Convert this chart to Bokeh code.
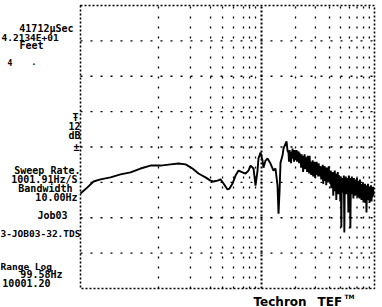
from bokeh.plotting import figure
from bokeh.models import Label
from bokeh.embed import file_html
from bokeh.resources import INLINE
import numpy as np
import math

# ---- data (frequency in Hz, level in dB) ----
smooth_hz = [25.0, 28.8, 32.6, 37.6, 46.1, 56.5, 69.3, 84.9, 104, 128, 157, 184, 213, 245,
             277, 319, 354, 376, 408, 434, 461, 500, 521, 554, 589, 626, 679, 722, 767,
             800, 850, 885, 922, 940, 980, 1021, 1041, 1085, 1130, 1201, 1277, 1330, 1386,
             1414, 1443, 1473, 1534, 1566, 1665, 1699]
smooth_db = [-63.8, -61.7, -59.7, -59.0, -58.3, -57.3, -56.6, -55.3, -54.3, -54.3, -53.9,
             -53.6, -53.9, -55.3, -57.0, -58.3, -59.4, -59.7, -59.4, -59.0, -60.4, -62.4,
             -62.1, -60.4, -57.7, -56.0, -56.6, -57.0, -56.0, -54.3, -55.3, -61.1, -56.0,
             -51.9, -49.9, -52.6, -55.0, -52.6, -51.9, -53.6, -56.0, -55.3, -61.1,
             -70.6, -63.4, -53.3, -50.9, -48.5, -46.1, -49.2]
dense_db = [-50, -53, -49, -52, -50.5, -53.5, -49.5, -52, -48.5, -51.5, -50, -53,
            -49, -52.5, -50, -51.5, -49, -53, -50.5, -52, -49.5, -53.5, -50, -52.5,
            -51, -55, -50.5, -54, -52, -56.5, -51, -54.5, -50.5, -55.5,
            -52, -54, -51.5, -56.5, -51, -55, -52.5, -57, -51, -55.5,
            -53, -57.5, -53.5, -56, -52.5, -58, -54, -57, -53, -58.5,
            -54.5, -56.5, -53, -57.5, -54, -58, -53.5, -56.5, -54.5, -58,
            -54.5, -59, -55, -58, -54, -60.5, -55.5, -58.5, -54.5, -59.5,
            -56, -61, -55, -58.5, -55.5, -60, -54.5, -59, -56, -60.5,
            -56, -62, -57, -61, -56.5, -64.5, -57.5, -61.5, -56, -63,
            -57, -66, -58, -62, -56.5, -64, -57.5, -61, -58, -66.5,
            -58, -75.3, -59, -62, -58.5, -63.5, -57.7, -77, -59, -62.5,
            -58, -64, -59.5, -63, -58.5, -70.2, -57.7, -62.5, -58.5, -75.6,
            -59, -64, -58, -63, -59.5, -65.5, -58.5, -63.5, -59, -64.5,
            -60, -63, -58.5, -65, -59.5, -64, -60, -65.5, -59, -63.5,
            -60.5, -66, -61, -65, -60, -66.8, -61.5, -65.5, -60.5, -67, -61, -70.2, -62,
            -66, -60.5, -65.5, -61.5, -67, -62, -65.5, -61, -66.5, -62.5, -65, -61.5, -64.5]
dense_hz = list(np.geomspace(1734, 9800, len(dense_db)))

freq_hz = smooth_hz + dense_hz
level_db = smooth_db + dense_db

grid_minor_hz = [122.5, 235, 354, 452, 565, 693, 783, 885,
                 2000, 3000, 4000, 5000, 6000, 7000, 8000, 9000]
grid_major_hz = [1000]
grid_db = [-12, -24, -36, -48, -60, -72, -84]
box_hz = (25.0, 10000.0)
box_db = (-96.0, 0.0)

# ---- canvas geometry: the frame covers the whole canvas, the plot box sits inside ----
W, H = 382, 307
ML, MR, MT, MB = 80, 8, 5, 19
dec_px = (W - ML - MR) / math.log10(box_hz[1] / box_hz[0])
db_px = (H - MT - MB) / (box_db[1] - box_db[0])
x_range = (10 ** (math.log10(box_hz[0]) - ML / dec_px), 10 ** (math.log10(box_hz[1]) + MR / dec_px))
y_range = (box_db[0] - MB / db_px, box_db[1] + MT / db_px)

p = figure(width=W, height=H, x_axis_type="log", x_range=x_range, y_range=y_range,
           output_backend="svg", toolbar_location=None,
           min_border_left=0, min_border_right=0, min_border_top=0, min_border_bottom=0)
p.xaxis.visible = False
p.yaxis.visible = False
p.xgrid.visible = False
p.ygrid.visible = False
p.outline_line_color = None
p.background_fill_color = "white"
p.border_fill_color = "white"

# grid (sparse dotted) and decade line (dense dotted)
n = len(grid_minor_hz)
p.segment(x0=grid_minor_hz, y0=[box_db[0]] * n, x1=grid_minor_hz, y1=[box_db[1]] * n,
          line_color="black", line_dash="2 8", line_width=1.3)
m = len(grid_db)
p.segment(x0=[box_hz[0]] * m, y0=grid_db, x1=[box_hz[1]] * m, y1=grid_db,
          line_color="black", line_dash="2 8", line_width=1.3)
k = len(grid_major_hz)
p.segment(x0=grid_major_hz, y0=[box_db[0]] * k, x1=grid_major_hz, y1=[box_db[1]] * k,
          line_color="black", line_dash="2 2", line_width=2)
# dotted plot box
p.quad(left=[box_hz[0]], right=[box_hz[1]], bottom=[box_db[0]], top=[box_db[1]],
       fill_color=None, line_color="black", line_dash="2 2", line_width=1.6)

p.line(freq_hz, level_db, line_color="black", line_width=1.9)

MONO = "DejaVu Sans Mono"


def add_text(txt, cx, cy, size=10, align="left", font=MONO, style="bold"):
    p.add_layout(Label(x=cx, y=H - cy, x_units="screen", y_units="screen",
                       text=txt, text_align=align, text_baseline="alphabetic",
                       text_font=font, text_font_size=f"{size}px",
                       text_font_style=style, text_color="black"))


add_text("41712µSec", 73, 28, align="right")
add_text("4.2134E+01", 1, 37, size=9.5)
add_text("Feet", 43, 45, align="right")
add_text("4", 7, 62, size=8)
add_text(".", 31, 61, size=8)
add_text("Ŧ", 78, 117, align="right")
add_text("12", 80, 125, align="right")
add_text("dB", 80, 135, align="right")
add_text("±", 79, 147, align="right")
add_text("Sweep Rate.", 80, 170, align="right")
add_text("1001.91Hz/S", 77, 179, align="right")
add_text("Bandwidth", 72, 188, align="right")
add_text("10.00Hz", 77, 197, align="right")
add_text("Job03", 67, 215, align="right")
add_text("3-JOB03-32.TDS", 80, 233, size=9.5, align="right")
add_text("Range Log", 0, 266, size=9.5)
add_text("99.58Hz", 62, 274, align="right")
add_text("10001.20", 50, 282, align="right")
add_text("Techron", 253, 301, size=12, font="DejaVu Sans", style="bold")
add_text("TEF", 317, 301, size=12, font="DejaVu Sans", style="bold")
add_text("TM", 344, 296, size=6, font="DejaVu Sans", style="bold")

open("out.html", "w").write(file_html(p, INLINE))
